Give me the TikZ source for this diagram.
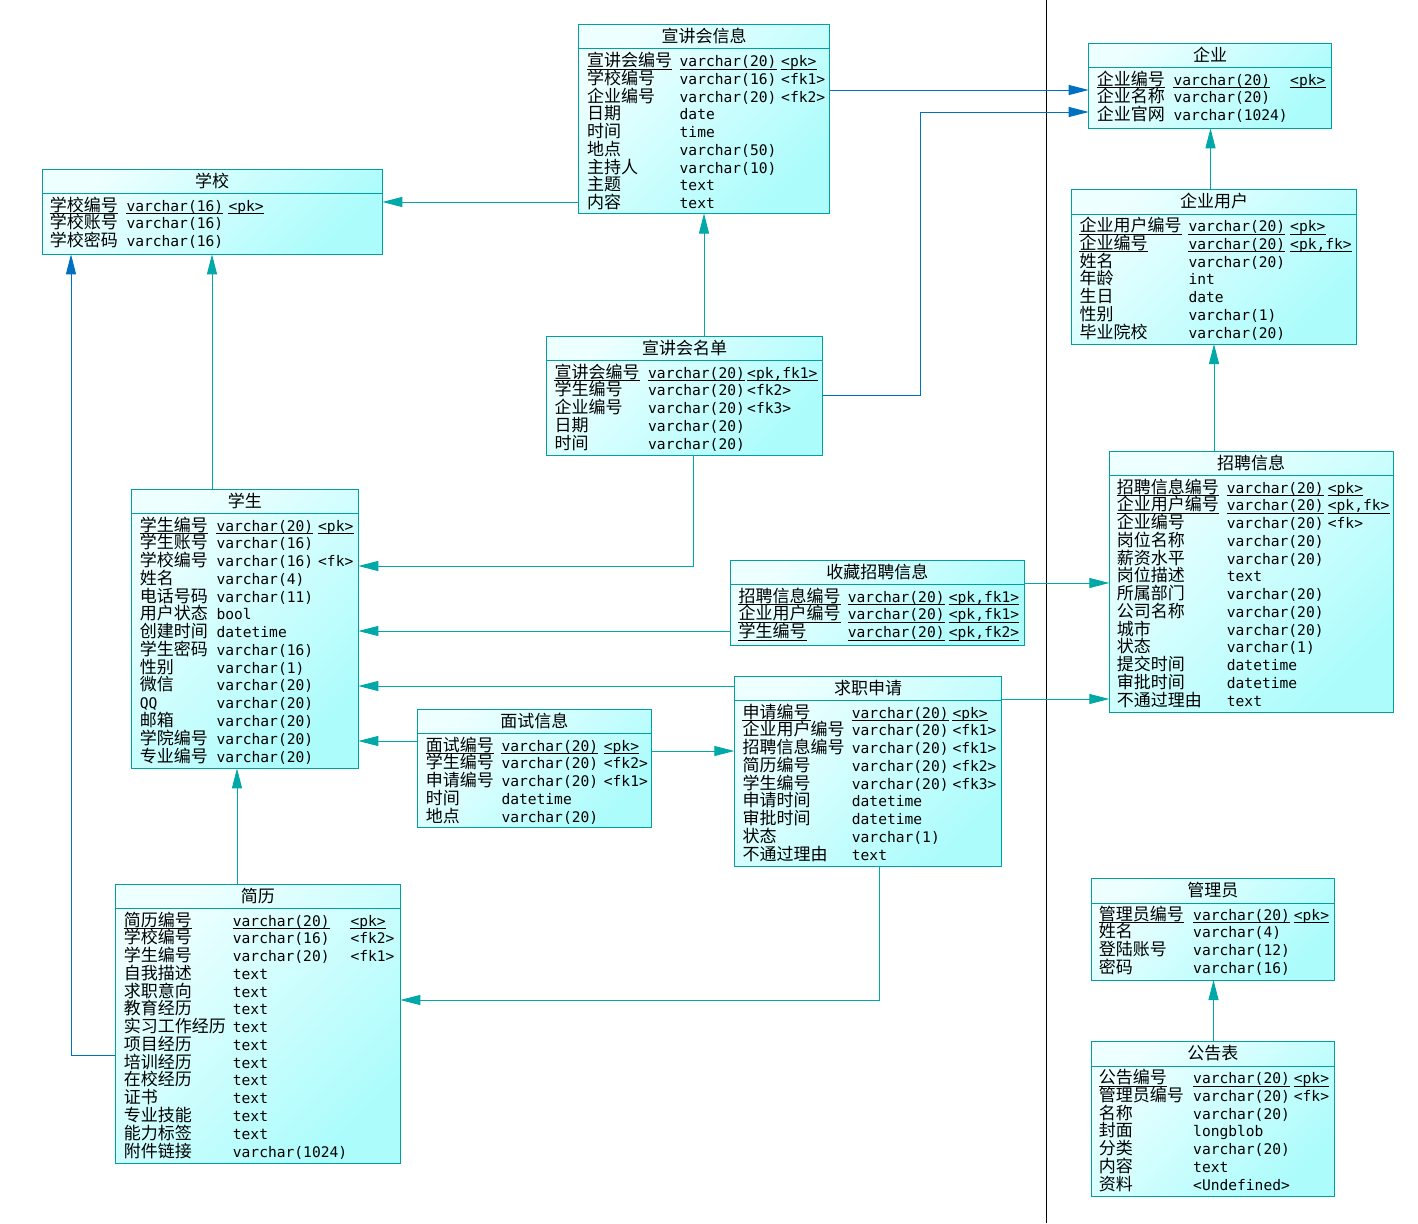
\documentclass[tikz,border=0pt]{standalone}
\usepackage{fontspec}
\newfontfamily\cjk{Noto Sans CJK SC}
\newfontfamily\mono{DejaVu Sans Mono}
\usetikzlibrary{arrows.meta}
\definecolor{bord}{RGB}{0,160,160}
\definecolor{lnT}{RGB}{0,168,168}
\definecolor{lnB}{RGB}{0,112,192}
\definecolor{shA}{RGB}{238,255,255}
\definecolor{shB}{RGB}{172,252,252}
\newcommand\cjkfs{\cjk\fontsize{17}{17}\selectfont}
\newcommand\monofs{\mono\fontsize{14.6}{14.6}\selectfont}
\newcounter{cellc}
\newcommand\mkcell[4]{\stepcounter{cellc}\node[#1] (c\arabic{cellc}) at (#2,#3) {#4};}
\newcommand\ulast{\draw[ul] ([yshift=-2.5pt]c\arabic{cellc}.base west) -- ([yshift=-2.5pt]c\arabic{cellc}.base east);}
\newcommand\setcols[4]{\def\cA{#1}\def\cB{#2}\def\cC{#3}\def\yz{#4}}
\newcommand\prow[3]{\pgfmathsetmacro\rowy{\yz+(#1-1)*17.77+5.5}%
  \mkcell{nm}{\cA}{\rowy}{#2}\mkcell{ty}{\cB}{\rowy}{#3}}
\newcommand\krow[4]{\prow{#1}{#2}{#3}\mkcell{ty}{\cC}{\rowy}{#4}}
\newcommand\urow[4]{\pgfmathsetmacro\rowy{\yz+(#1-1)*17.77+5.5}%
  \mkcell{nm}{\cA}{\rowy}{#2}\ulast\mkcell{ty}{\cB}{\rowy}{#3}\ulast\mkcell{ty}{\cC}{\rowy}{#4}\ulast}
\newcommand\etable[7]{%
  \node[tbl, minimum width={#4-#2}, minimum height={#5-#3}] (#1) at (#2,#3) {};
  \draw[divl] (#2,#6) -- (#4,#6);
  \node[ttl] (#1t) at ({(#2+#4)/2},{(#3+#6)/2+6}) {#7};}
\tikzset{
  tbl/.style={draw=bord, line width=1pt, rectangle, inner sep=0pt, outer sep=0pt,
    anchor=north west, top color=shA, bottom color=shB, shading angle=45},
  divl/.style={draw=bord, line width=1pt},
  ttl/.style={font=\cjkfs, anchor=base, inner sep=0pt},
  nm/.style={font=\cjkfs, anchor=base west, inner sep=0pt},
  ty/.style={font=\monofs, anchor=base west, inner sep=0pt},
  ul/.style={line width=0.9pt, black},
  fk/.style={draw=lnT, line width=1pt, -{Triangle[length=20pt,width=10pt]}},
  fkb/.style={draw=lnB, line width=1pt, -{Triangle[length=20pt,width=10pt]}},
}
\begin{document}
\begin{tikzpicture}[x=1pt,y=-1pt]
\useasboundingbox (0,0) rectangle (1418,1223);
\fill[white] (0,0) rectangle (1418,1223);
\draw[black, line width=1pt] (1046,0) -- (1046,1223);

% 宣讲会信息
\etable{xjhxx}{578.5}{24.5}{829.5}{213.5}{48.5}{宣讲会信息}
\setcols{587}{679.5}{781}{61}
\urow{1}{宣讲会编号}{varchar(20)}{<pk>}
\krow{2}{学校编号}{varchar(16)}{<fk1>}
\krow{3}{企业编号}{varchar(20)}{<fk2>}
\prow{4}{日期}{date}
\prow{5}{时间}{time}
\prow{6}{地点}{varchar(50)}
\prow{7}{主持人}{varchar(10)}
\prow{8}{主题}{text}
\prow{9}{内容}{text}

% 企业
\etable{qy}{1088.7}{43.3}{1331.7}{128.3}{67.3}{企业}
\setcols{1096.7}{1173.3}{1290}{79.5}
\urow{1}{企业编号}{varchar(20)}{<pk>}
\prow{2}{企业名称}{varchar(20)}
\prow{3}{企业官网}{varchar(1024)}

% 企业用户
\etable{qyyh}{1071.3}{189.3}{1356.7}{344}{214}{企业用户}
\setcols{1079.3}{1188.3}{1290}{226}
\urow{1}{企业用户编号}{varchar(20)}{<pk>}
\urow{2}{企业编号}{varchar(20)}{<pk,fk>}
\prow{3}{姓名}{varchar(20)}
\prow{4}{年龄}{int}
\prow{5}{生日}{date}
\prow{6}{性别}{varchar(1)}
\prow{7}{毕业院校}{varchar(20)}

% 学校
\etable{school}{42}{169.3}{382.3}{254.3}{193.3}{学校}
\setcols{49.7}{126.3}{228.3}{205.5}
\urow{1}{学校编号}{varchar(16)}{<pk>}
\prow{2}{学校账号}{varchar(16)}
\prow{3}{学校密码}{varchar(16)}

% 宣讲会名单
\etable{xjhmd}{546.3}{336.3}{822.7}{455.3}{360}{宣讲会名单}
\setcols{554.3}{648}{747}{372.5}
\urow{1}{宣讲会编号}{varchar(20)}{<pk,fk1>}
\krow{2}{学生编号}{varchar(20)}{<fk2>}
\krow{3}{企业编号}{varchar(20)}{<fk3>}
\prow{4}{日期}{varchar(20)}
\prow{5}{时间}{varchar(20)}

% 学生
\etable{student}{131.3}{489.3}{358.3}{768.3}{513.3}{学生}
\setcols{139.7}{216.3}{318}{525.5}
\urow{1}{学生编号}{varchar(20)}{<pk>}
\prow{2}{学生账号}{varchar(16)}
\krow{3}{学校编号}{varchar(16)}{<fk>}
\prow{4}{姓名}{varchar(4)}
\prow{5}{电话号码}{varchar(11)}
\prow{6}{用户状态}{bool}
\prow{7}{创建时间}{datetime}
\prow{8}{学生密码}{varchar(16)}
\prow{9}{性别}{varchar(1)}
\prow{10}{微信}{varchar(20)}
\prow{11}{{\monofs QQ}}{varchar(20)}
\prow{12}{邮箱}{varchar(20)}
\prow{13}{学院编号}{varchar(20)}
\prow{14}{专业编号}{varchar(20)}

% 收藏招聘信息
\etable{sc}{730.3}{560.3}{1024.3}{645.3}{584}{收藏招聘信息}
\setcols{738.3}{847.7}{948.7}{596.5}
\urow{1}{招聘信息编号}{varchar(20)}{<pk,fk1>}
\urow{2}{企业用户编号}{varchar(20)}{<pk,fk1>}
\urow{3}{学生编号}{varchar(20)}{<pk,fk2>}

% 招聘信息
\etable{zp}{1109.3}{451.3}{1393}{712.7}{475.3}{招聘信息}
\setcols{1116.7}{1226.7}{1327.7}{487.5}
\urow{1}{招聘信息编号}{varchar(20)}{<pk>}
\urow{2}{企业用户编号}{varchar(20)}{<pk,fk>}
\krow{3}{企业编号}{varchar(20)}{<fk>}
\prow{4}{岗位名称}{varchar(20)}
\prow{5}{薪资水平}{varchar(20)}
\prow{6}{岗位描述}{text}
\prow{7}{所属部门}{varchar(20)}
\prow{8}{公司名称}{varchar(20)}
\prow{9}{城市}{varchar(20)}
\prow{10}{状态}{varchar(1)}
\prow{11}{提交时间}{datetime}
\prow{12}{审批时间}{datetime}
\prow{13}{不通过理由}{text}

% 求职申请
\etable{qz}{734.3}{676.3}{1001.7}{866.3}{700.3}{求职申请}
\setcols{742.3}{851.7}{952.3}{712.5}
\urow{1}{申请编号}{varchar(20)}{<pk>}
\krow{2}{企业用户编号}{varchar(20)}{<fk1>}
\krow{3}{招聘信息编号}{varchar(20)}{<fk1>}
\krow{4}{简历编号}{varchar(20)}{<fk2>}
\krow{5}{学生编号}{varchar(20)}{<fk3>}
\prow{6}{申请时间}{datetime}
\prow{7}{审批时间}{datetime}
\prow{8}{状态}{varchar(1)}
\prow{9}{不通过理由}{text}

% 面试信息
\etable{ms}{417.3}{709.3}{651.3}{827.3}{733}{面试信息}
\setcols{425.7}{501.3}{603.7}{745.5}
\urow{1}{面试编号}{varchar(20)}{<pk>}
\krow{2}{学生编号}{varchar(20)}{<fk2>}
\krow{3}{申请编号}{varchar(20)}{<fk1>}
\prow{4}{时间}{datetime}
\prow{5}{地点}{varchar(20)}

% 简历
\etable{jl}{115.3}{884.3}{400.3}{1163.3}{908.3}{简历}
\setcols{123.7}{232.7}{350.3}{920.5}
\urow{1}{简历编号}{varchar(20)}{<pk>}
\krow{2}{学校编号}{varchar(16)}{<fk2>}
\krow{3}{学生编号}{varchar(20)}{<fk1>}
\prow{4}{自我描述}{text}
\prow{5}{求职意向}{text}
\prow{6}{教育经历}{text}
\prow{7}{实习工作经历}{text}
\prow{8}{项目经历}{text}
\prow{9}{培训经历}{text}
\prow{10}{在校经历}{text}
\prow{11}{证书}{text}
\prow{12}{专业技能}{text}
\prow{13}{能力标签}{text}
\prow{14}{附件链接}{varchar(1024)}

% 管理员
\etable{gly}{1091.3}{878.3}{1334.3}{980}{903}{管理员}
\setcols{1098.7}{1193}{1293.7}{914.5}
\urow{1}{管理员编号}{varchar(20)}{<pk>}
\prow{2}{姓名}{varchar(4)}
\prow{3}{登陆账号}{varchar(12)}
\prow{4}{密码}{varchar(16)}

% 公告表
\etable{ggb}{1091.3}{1041.7}{1334.3}{1196.3}{1066}{公告表}
\setcols{1098.7}{1193}{1293.7}{1078}
\urow{1}{公告编号}{varchar(20)}{<pk>}
\krow{2}{管理员编号}{varchar(20)}{<fk>}
\prow{3}{名称}{varchar(20)}
\prow{4}{封面}{longblob}
\prow{5}{分类}{varchar(20)}
\prow{6}{内容}{text}
\prow{7}{资料}{<Undefined>}

% connectors
\draw[fk] (xjhxx.west |- 0,202) -- (school.east |- 0,202);
\draw[fkb] (xjhxx.east |- 0,90) -- (qy.west |- 0,90);
\draw[fkb] (xjhmd.east |- 0,395) -- (920,395) -- (920,112) -- (qy.west |- 0,112);
\draw[fk] (xjhmd.north -| 704,0) -- (xjhxx.south -| 704,0);
\draw[fk] (xjhmd.south -| 693.5,0) |- (student.east |- 0,566);
\draw[fk] (student.north -| 212,0) -- (school.south -| 212,0);
\draw[fkb] (jl.west |- 0,1055) -| (school.south -| 71,0);
\draw[fk] (jl.north -| 237,0) -- (student.south -| 237,0);
\draw[fk] (sc.west |- 0,631) -- (student.east |- 0,631);
\draw[fk] (sc.east |- 0,583) -- (zp.west |- 0,583);
\draw[fk] (qz.west |- 0,686) -- (student.east |- 0,686);
\draw[fk] (qz.east |- 0,699) -- (zp.west |- 0,699);
\draw[fk] (ms.west |- 0,741) -- (student.east |- 0,741);
\draw[fk] (ms.east |- 0,751) -- (qz.west |- 0,751);
\draw[fk] (qz.south -| 879,0) |- (jl.east |- 0,1000);
\draw[fk] (zp.north -| 1214,0) -- (qyyh.south -| 1214,0);
\draw[fk] (qyyh.north -| 1210.5,0) -- (qy.south -| 1210.5,0);
\draw[fk] (ggb.north -| 1213.5,0) -- (gly.south -| 1213.5,0);
\end{tikzpicture}
\end{document}
